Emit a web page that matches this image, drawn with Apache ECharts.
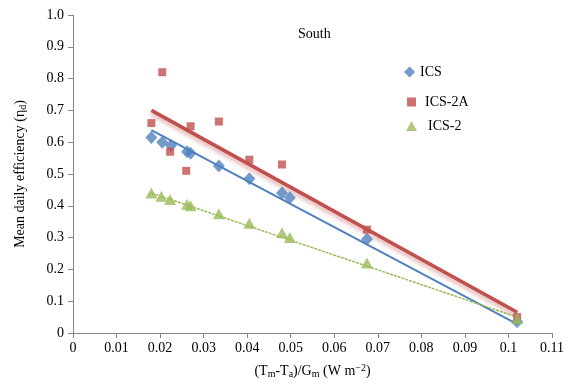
<!DOCTYPE html>
<html>
<head>
<meta charset="utf-8">
<script src="https://cdn.jsdelivr.net/npm/echarts@6/dist/echarts.min.js"></script>
<style>
html, body { margin: 0; padding: 0; background: #fff; }
#main { width: 569px; height: 388px; }
</style>
</head>
<body>
<div id="main"></div>
<script>
// measured points, x = (Tm-Ta)/Gm, y = mean daily efficiency
var icsX = [0.018, 0.0205, 0.0225, 0.0262, 0.027, 0.0335, 0.0405, 0.048, 0.0498, 0.0675, 0.102]
var icsY = [0.615, 0.60, 0.59, 0.57, 0.565, 0.525, 0.485, 0.44, 0.425, 0.295, 0.035]

var ics2aX = [0.018, 0.0205, 0.0223, 0.026, 0.027, 0.0335, 0.0405, 0.048, 0.0675, 0.102]
var ics2aY = [0.66, 0.82, 0.57, 0.51, 0.65, 0.665, 0.545, 0.53, 0.325, 0.05]

var ics2X = [0.018, 0.0203, 0.0223, 0.0262, 0.027, 0.0335, 0.0405, 0.048, 0.0498, 0.0675, 0.102]
var ics2Y = [0.44, 0.43, 0.42, 0.405, 0.40, 0.375, 0.345, 0.315, 0.30, 0.22, 0.045]

// trend line end points
var trendX = [0.018, 0.102]
var icsTrend = [0.638, 0.028]
var ics2aTrend = [0.70, 0.065]
var ics2Trend = [0.44, 0.05]

var xTicks = [0, 0.01, 0.02, 0.03, 0.04, 0.05, 0.06, 0.07, 0.08, 0.09, 0.1, 0.11]
var yTicks = [0, 0.1, 0.2, 0.3, 0.4, 0.5, 0.6, 0.7, 0.8, 0.9, 1.0]

var blue = '#4F81BD', red = '#C0504D', green = '#9BBB59'
var font = 'Liberation Serif'

function pairs(xs, ys) {
	var out = []
	for (var i = 0; i < xs.length; i++) out.push([xs[i], ys[i]])
	return out
}

var myChart = echarts.init(document.getElementById('main'))

var option = {
	animation : false,
	textStyle : { fontFamily : font, color : '#000' },
	title : {
		text : 'South',
		left : 293,
		top : 22,
		textStyle : { fontFamily : font, fontSize : 14, fontWeight : 'normal', color : '#000' }
	},
	legend : [
		{ data : [{ name : 'ICS', icon : 'diamond' }], left : 399, top : 60, itemWidth : 11, itemHeight : 11,
			textStyle : { fontFamily : font, fontSize : 14, color : '#000' } },
		{ data : [{ name : 'ICS-2A', icon : 'rect' }], left : 402, top : 90, itemWidth : 9, itemHeight : 9, itemGap : 5,
			textStyle : { fontFamily : font, fontSize : 14, color : '#000', padding : [0, 0, 0, 4] } },
		{ data : [{ name : 'ICS-2', icon : 'triangle' }], left : 401, top : 114, itemWidth : 11, itemHeight : 10,
			textStyle : { fontFamily : font, fontSize : 14, color : '#000', padding : [0, 0, 0, 6] } }
	],
	grid : { left : 73, right : 17, top : 15, bottom : 55 },
	xAxis : {
		type : 'value',
		min : 0, max : 0.11, interval : 0.01,
		name : '{t|(T}{s|m}{t|-T}{s|a}{t|)/G}{s|m}{t| (W m}{p|−2}{t|)}',
		nameLocation : 'middle',
		nameGap : 30,
		nameTextStyle : {
			rich : {
				t : { fontFamily : font, fontSize : 14, color : '#000' },
				s : { fontFamily : font, fontSize : 10, color : '#000', verticalAlign : 'bottom', padding : [6, 0, 0, 0] },
				p : { fontFamily : font, fontSize : 10, color : '#000', verticalAlign : 'top', padding : [0, 0, 6, 0] }
			}
		},
		axisLine : { lineStyle : { color : '#868686' } },
		axisTick : { show : true, length : 5, lineStyle : { color : '#868686' } },
		splitLine : { show : false },
		axisLabel : {
			fontFamily : font, fontSize : 14, color : '#000', margin : 8,
			formatter : function(v) { return v === 0 ? '0' : String(+v.toFixed(2)) }
		}
	},
	yAxis : {
		type : 'value',
		min : 0, max : 1, interval : 0.1,
		name : '{t|Mean daily efficiency (η}{s|d}{t|)}',
		nameLocation : 'middle',
		nameGap : 45,
		nameRotate : 90,
		nameTextStyle : {
			rich : {
				t : { fontFamily : font, fontSize : 14, color : '#000' },
				s : { fontFamily : font, fontSize : 10, color : '#000', verticalAlign : 'bottom', padding : [6, 0, 0, 0] }
			}
		},
		axisLine : { show : true, lineStyle : { color : '#868686' } },
		axisTick : { show : true, length : 5, lineStyle : { color : '#868686' } },
		splitLine : { show : false },
		axisLabel : {
			fontFamily : font, fontSize : 14, color : '#000', margin : 9,
			formatter : function(v) { return v === 0 ? '0' : v.toFixed(1) }
		}
	},
	series : [
		{
			name : 'ICS2Atrend', type : 'line', data : pairs(trendX, ics2aTrend), symbol : 'none', silent : true,
			lineStyle : { color : red, width : 3.5, shadowColor : 'rgba(192,80,77,0.5)', shadowBlur : 4, shadowOffsetY : 3 },
			z : 2
		},
		{
			name : 'ICStrend', type : 'line', data : pairs(trendX, icsTrend), symbol : 'none', silent : true,
			lineStyle : { color : blue, width : 2 },
			z : 2
		},
		{
			name : 'ICS2trend', type : 'line', data : pairs(trendX, ics2Trend), symbol : 'none', silent : true,
			lineStyle : { color : green, width : 1.5, type : [3, 1] },
			z : 2
		},
		{
			name : 'ICS', type : 'scatter', data : pairs(icsX, icsY),
			symbol : 'diamond', symbolSize : [12, 13], itemStyle : { color : blue }, z : 3
		},
		{
			name : 'ICS-2A', type : 'scatter', data : pairs(ics2aX, ics2aY),
			symbol : 'rect', symbolSize : 8, itemStyle : { color : red }, z : 3
		},
		{
			name : 'ICS-2', type : 'scatter', data : pairs(ics2X, ics2Y),
			symbol : 'triangle', symbolSize : [12, 11], itemStyle : { color : green }, z : 3
		}
	]
}
myChart.setOption(option)
</script>
</body>
</html>
